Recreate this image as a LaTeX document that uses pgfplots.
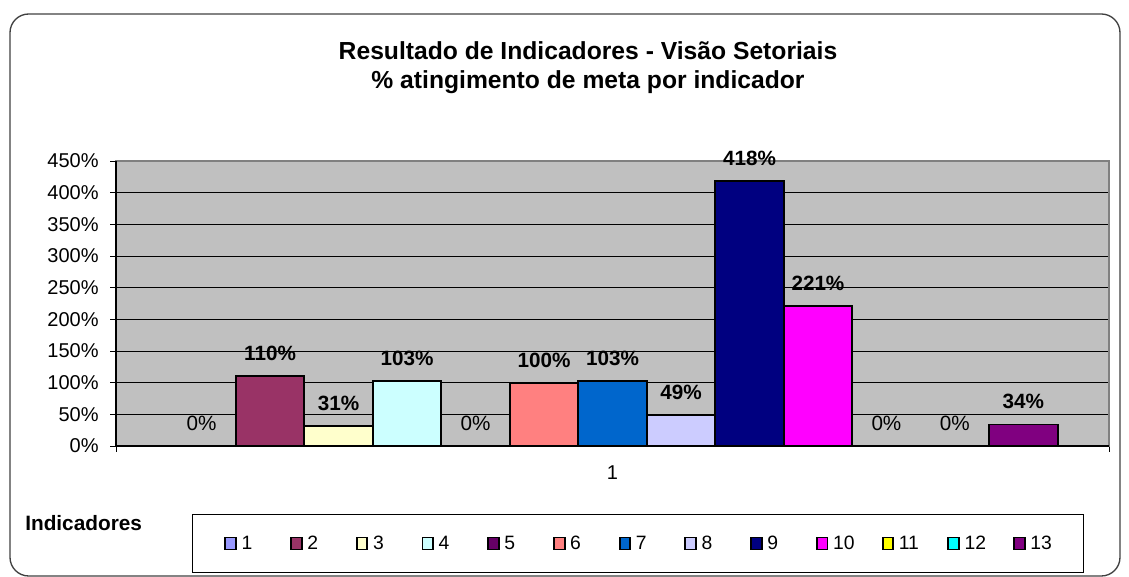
\documentclass[border=0pt]{standalone}
\usepackage{fontspec}
\setmainfont{Liberation Sans}
\usepackage{pgfplots}
\pgfplotsset{compat=1.18}
\definecolor{c1}{HTML}{9999FF}
\definecolor{c2}{HTML}{993366}
\definecolor{c3}{HTML}{FFFFCC}
\definecolor{c4}{HTML}{CCFFFF}
\definecolor{c5}{HTML}{660066}
\definecolor{c6}{HTML}{FF8080}
\definecolor{c7}{HTML}{0066CC}
\definecolor{c8}{HTML}{CCCCFF}
\definecolor{c9}{HTML}{000080}
\definecolor{c10}{HTML}{FF00FF}
\definecolor{c11}{HTML}{FFFF00}
\definecolor{c12}{HTML}{00FFFF}
\definecolor{c13}{HTML}{800080}
\definecolor{bggray}{HTML}{C0C0C0}
\pgfplotsset{
  lab/.style={nodes near coords={\bfseries\pgfmathprintnumber{\pgfplotspointmeta}\%}},
  labz/.style={nodes near coords={\pgfmathprintnumber{\pgfplotspointmeta}\%}},
}
\begin{document}
\begin{tikzpicture}
\begin{scope}[x=0.75pt,y=0.75pt]
\path[use as bounding box] (0,0) rectangle (1129,577);
\draw[line width=1pt, color=black!75, rounded corners=14pt] (10,1) rectangle (1120,563);
\node[font=\bfseries\fontsize{18.5}{22}\selectfont] at (588,526) {Resultado de Indicadores - Visão Setoriais};
\node[font=\bfseries\fontsize{18.5}{22}\selectfont] at (588,495) {\% atingimento de meta por indicador};
\node[font=\bfseries\fontsize{15.6}{18}\selectfont, anchor=west, inner sep=0pt] at (25,54) {Indicadores};
\coordinate (O) at (116,131);
\end{scope}
\begin{axis}[
  at={(O)}, anchor=south west,
  scale only axis, width=744.75pt, height=213.75pt,
  xmin=-0.25, xmax=14.25, ymin=0, ymax=450,
  ybar, bar width=1, bar shift=0pt,
  clip=false,
  axis background/.style={fill=bggray},
  axis line style={draw=gray, line width=0.8pt},
  ytick={0,50,...,450},
  yticklabel={\pgfmathprintnumber{\tick}\%},
  /pgf/number format/assume math mode=true,
  ymajorgrids, grid style={black, line width=0.6pt},
  xtick={-0.25,14.25}, xticklabels={,},
  extra x ticks={7}, extra x tick labels={1},
  extra x tick style={major tick length=0pt, xticklabel style={yshift=-11pt}},
  ytick pos=left, xtick pos=bottom,
  tick align=outside, major tick length=4.5pt,
  tick style={black, line width=0.6pt},
  ticklabel style={font=\fontsize{15}{18}\selectfont},
  yticklabel style={xshift=-5pt},
  every node near coord/.append style={anchor=center, yshift=17pt, font=\fontsize{15.5}{18}\selectfont, text=black},
  every axis plot/.append style={draw=black, line width=1.4pt},
  legend columns=13,
  legend image code/.code={\draw[#1, draw=black, line width=1.4pt] (0pt,-4.5pt) rectangle (8pt,4.5pt);},
  legend style={at={(0.5257,-0.342)}, anchor=center, draw=black, line width=0.8pt,
    font=\fontsize{14.5}{17}\selectfont, inner xsep=24pt, inner ysep=14pt,
    nodes={inner xsep=0pt},
    /tikz/every odd column/.append style={column sep=3.5pt},
    /tikz/every even column/.append style={column sep=20.4pt}},
  after end axis/.code={\draw[black, line width=0.8pt] (rel axis cs:0,1) -- (rel axis cs:0,0) -- (rel axis cs:1,0);},
]
\addplot[fill=c1, labz] coordinates {(1,0)};
\addlegendentry{\makebox[16pt][l]{1}}
\addplot[fill=c2, lab] coordinates {(2,110)};
\addlegendentry{\makebox[16pt][l]{2}}
\addplot[fill=c3, lab] coordinates {(3,31)};
\addlegendentry{\makebox[16pt][l]{3}}
\addplot[fill=c4, lab] coordinates {(4,103)};
\addlegendentry{\makebox[16pt][l]{4}}
\addplot[fill=c5, labz] coordinates {(5,0)};
\addlegendentry{\makebox[16pt][l]{5}}
\addplot[fill=c6, lab] coordinates {(6,100)};
\addlegendentry{\makebox[16pt][l]{6}}
\addplot[fill=c7, lab] coordinates {(7,103)};
\addlegendentry{\makebox[16pt][l]{7}}
\addplot[fill=c8, lab] coordinates {(8,49)};
\addlegendentry{\makebox[16pt][l]{8}}
\addplot[fill=c9, lab] coordinates {(9,418)};
\addlegendentry{\makebox[16pt][l]{9}}
\addplot[fill=c10, lab] coordinates {(10,221)};
\addlegendentry{\makebox[16pt][l]{10}}
\addplot[fill=c11, labz] coordinates {(11,0)};
\addlegendentry{\makebox[16pt][l]{11}}
\addplot[fill=c12, labz] coordinates {(12,0)};
\addlegendentry{\makebox[16pt][l]{12}}
\addplot[fill=c13, lab] coordinates {(13,34)};
\addlegendentry{\makebox[16pt][l]{13}}
\end{axis}
\end{tikzpicture}
\end{document}
